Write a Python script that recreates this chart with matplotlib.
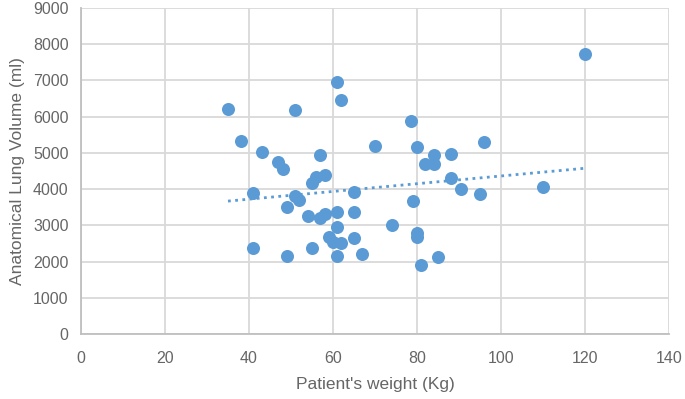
import numpy as np
import matplotlib
matplotlib.use("Agg")
import matplotlib.pyplot as plt

# patient weight (kg) vs anatomical lung volume (ml)
weight = [35, 38, 41, 41, 43, 47, 48, 49, 49, 51, 51, 52, 54, 55, 55, 56, 57, 57,
          58, 58, 59, 60, 61, 61, 61, 61, 62, 62, 65, 65, 65, 67, 70, 74, 78.5, 79,
          80, 80, 80, 81, 82, 84, 84, 85, 88, 88, 90.5, 95, 96, 110, 120]
volume = [6200, 5320, 3890, 2380, 5020, 4750, 4560, 3510, 2140, 6190, 3810, 3690,
          3270, 4180, 2380, 4340, 4930, 3200, 4400, 3310, 2670, 2550, 6960, 3370,
          2950, 2140, 6470, 2510, 3920, 3370, 2640, 2210, 5200, 3000, 5880, 3670,
          5160, 2780, 2690, 1910, 4700, 4940, 4700, 2130, 4970, 4320, 4000, 3870,
          5290, 4070, 7720]

xticks = [0, 20, 40, 60, 80, 100, 120, 140]
yticks = [0, 1000, 2000, 3000, 4000, 5000, 6000, 7000, 8000, 9000]

blue = "#5B9BD5"
grey = "#666666"
plt.rcParams["font.family"] = ["Liberation Sans", "DejaVu Sans"]

fig = plt.figure(figsize=(6.85, 3.99), dpi=100)
ax = fig.add_axes([81 / 685, 65 / 399, 588 / 685, 326 / 399])

ax.scatter(weight, volume, s=88, color=blue, zorder=3, linewidths=0)

# linear trend line
k, b = np.polyfit(weight, volume, 1)
xs = np.array([min(weight), max(weight)])
ax.plot(xs, k * xs + b, color=blue, linestyle=(0, (1, 1.6)), linewidth=2, zorder=2)

ax.set_xlim(0, 140)
ax.set_ylim(0, 9000)
ax.set_xticks(xticks)
ax.set_yticks(yticks)
ax.grid(True, color="#D9D9D9", linewidth=1.3, zorder=0)
ax.set_axisbelow(True)
for side in ["top", "right"]:
    ax.spines[side].set_visible(False)
for side in ["left", "bottom"]:
    ax.spines[side].set_color("#BFBFBF")
    ax.spines[side].set_linewidth(1.3)
ax.tick_params(length=0, labelsize=11.5, colors=grey, pad=12)
ax.tick_params(axis="y", pad=9)

ax.set_xlabel("Patient's weight (Kg)", fontsize=12.5, color=grey, labelpad=8)
ax.set_ylabel("Anatomical Lung Volume (ml)", fontsize=12.5, color=grey, labelpad=6)

fig.savefig("out.png", dpi=100)
